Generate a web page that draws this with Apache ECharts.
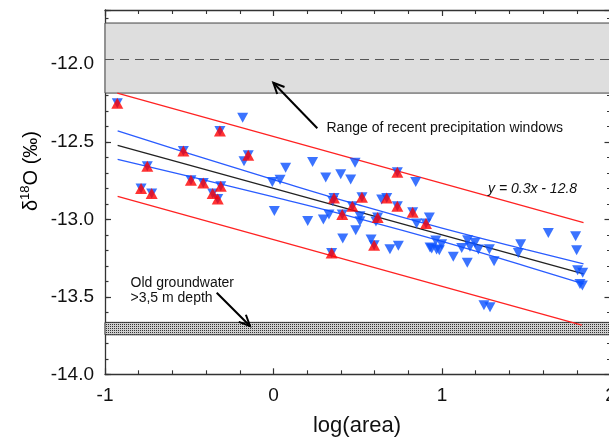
<!DOCTYPE html>
<html><head><meta charset="utf-8">
<script src="https://cdn.jsdelivr.net/npm/echarts@6/dist/echarts.min.js"></script>
<style>html,body{margin:0;padding:0;background:#fff}#c{width:609px;height:439px}</style>
</head><body><div id="c"></div>
<script>
// ---- data ----
const redPoints = [
  [-0.927,-12.251],[-0.318,-12.431],[-0.535,-12.560],[-0.150,-12.587],[-0.749,-12.658],
  [-0.490,-12.749],[-0.417,-12.766],[-0.313,-12.787],[-0.786,-12.802],[-0.723,-12.834],
  [-0.361,-12.834],[-0.331,-12.869],[0.735,-12.697],[0.359,-12.862],[0.525,-12.858],
  [0.672,-12.862],[0.468,-12.916],[0.735,-12.916],[0.826,-12.955],[0.408,-12.969],
  [0.618,-12.989],[0.905,-13.028],[0.597,-13.167],[0.345,-13.217]
];
const bluePoints = [
  [-0.183,-12.345],[-0.175,-12.626],[0.072,-12.667],[0.039,-12.745],[-0.007,-12.760],
  [0.005,-12.946],[0.232,-12.631],[0.484,-12.635],[0.399,-12.710],[0.310,-12.731],
  [0.458,-12.744],[0.844,-12.759],[0.642,-12.873],[0.351,-12.882],[0.925,-12.989],
  [0.329,-12.969],[0.296,-13.002],[0.203,-13.011],[0.513,-12.980],[0.513,-13.013],
  [0.608,-13.015],[0.849,-13.028],[0.488,-13.071],[0.411,-13.124],[0.579,-13.131],
  [0.741,-13.171],[0.691,-13.193],[0.929,-13.182],[0.963,-13.137],[0.968,-13.195],
  [1.631,-13.088],[1.793,-13.109],[1.799,-13.199],[1.467,-13.161],[1.453,-13.217],
  [1.152,-13.135],[1.196,-13.152],[1.166,-13.178],[1.216,-13.195],[1.281,-13.193],
  [1.117,-13.185],[0.998,-13.161],[0.939,-13.189],[0.984,-13.200],[1.067,-13.242],
  [1.150,-13.281],[1.309,-13.270],[1.805,-13.328],[1.835,-13.345],[1.819,-13.418],
  [1.833,-13.427],[1.249,-13.554],[1.285,-13.568]
];
const fitLine = [[-0.925,-12.5225],[1.84,-13.352]];
const confX = [-0.925,-0.5,0,0.5,1.0,1.5,1.84];
const confUpper = [-12.43,-12.576,-12.744,-12.906,-13.057,-13.196,-13.287];
const confLower = [-12.613,-12.724,-12.856,-12.994,-13.143,-13.304,-13.417];
const predUpper = [[-0.927,-12.186],[1.84,-13.021]];
const predLower = [[-0.925,-12.852],[1.83,-13.683]];
const precipBand = [-12.186,-11.734];
const precipMean = -11.973;
const groundwaterBand = [-13.745,-13.665];
const xRange = [-1, 2];
const yRange = [-14.0, -11.65];
const yLabelValues = [-14.0,-13.5,-13.0,-12.5,-12.0];
const xLabelValues = [-1,0,1,2];

// ---- pattern for the groundwater band ----
const pc = document.createElement('canvas'); pc.width = 2; pc.height = 2;
const g = pc.getContext('2d');
g.fillStyle = '#cfcfcf'; g.fillRect(0,0,2,2);
g.fillStyle = '#333'; g.fillRect(0,0,1,1);

const chart = echarts.init(document.getElementById('c'), null, {renderer:'canvas'});
const AX = '#333';
const gridW = 505.5, gridH = 364.3;

function xAx(pos, labels) {
  return {
    type:'value', position:pos, min:xRange[0], max:xRange[1], interval:1,
    axisLine:{show:true, onZero:false, lineStyle:{color:AX, width:1.3}},
    axisTick:{show:true, inside:true, length:6, lineStyle:{color:AX, width:1.2}},
    minorTick:{show:true, splitNumber:5, length:4, lineStyle:{color:AX, width:1.1}},
    axisLabel:{show:labels, margin:12, fontSize:19, color:'#111', fontFamily:'Liberation Sans, Arial',
      formatter:v => xLabelValues.some(t=>Math.abs(t-v)<1e-6) ? String(v) : ''},
    splitLine:{show:false}
  };
}
function yAx(pos, labels, step, len, showLine) {
  return {
    type:'value', position:pos, min:yRange[0], max:yRange[1], interval:step,
    axisLine:{show:showLine, onZero:false, lineStyle:{color:AX, width:1.3}},
    axisTick:{show:true, inside:true, length:len, lineStyle:{color:AX, width:1.2}},
    axisLabel:{show:labels, margin:11, fontSize:19, color:'#111', fontFamily:'Liberation Sans, Arial',
      formatter:v => yLabelValues.some(t=>Math.abs(t-v)<1e-6) ? v.toFixed(1) : ''},
    splitLine:{show:false}
  };
}

function arrow(x1,y1,x2,y2){
  const dx=x1-x2, dy=y1-y2, L=Math.hypot(dx,dy), ux=dx/L, uy=dy/L;
  const a=25*Math.PI/180, h=12;
  const b1=[x2+h*(ux*Math.cos(a)-uy*Math.sin(a)), y2+h*(ux*Math.sin(a)+uy*Math.cos(a))];
  const b2=[x2+h*(ux*Math.cos(a)+uy*Math.sin(a)), y2+h*(-ux*Math.sin(a)+uy*Math.cos(a))];
  return [
    {type:'line', shape:{x1,y1,x2,y2}, style:{stroke:'#000', lineWidth:2}, z:100},
    {type:'polyline', shape:{points:[b1,[x2,y2],b2]}, style:{stroke:'#000', lineWidth:2, fill:null}, z:100}
  ];
}

const txt = {fontFamily:'Liberation Sans, Arial', fill:'#111'};

chart.setOption({
  animation:false,
  grid:{left:105, top:10, width:gridW, height:gridH, containLabel:false, outerBoundsMode:'none'},
  xAxis:[xAx('bottom', true), xAx('top', false)],
  yAxis:[
    yAx('left', true, 0.5, 6, true),
    yAx('left', false, 0.1, 3.5, false),
    yAx('right', false, 0.5, 6, true),
    yAx('right', false, 0.1, 3.5, false)
  ],
  series:[
    {type:'scatter', data:[], xAxisIndex:0, yAxisIndex:0, z:1,
      markArea:{silent:true, label:{show:false},
        data:[
          [{yAxis:precipBand[0], itemStyle:{color:'#dedede', borderColor:'#444', borderWidth:1}}, {yAxis:precipBand[1]}],
          [{yAxis:groundwaterBand[0], itemStyle:{color:{image:pc, repeat:'repeat'}, borderColor:'#333', borderWidth:1}}, {yAxis:groundwaterBand[1]}]
        ]},
      markLine:{silent:true, symbol:['none','none'], label:{show:false},
        lineStyle:{color:'#555', type:[9,6], width:1.2},
        data:[{yAxis:precipMean}]}
    },
    {type:'line', data:predUpper, showSymbol:false, lineStyle:{color:'#ff2222', width:1.3}, z:3},
    {type:'line', data:predLower, showSymbol:false, lineStyle:{color:'#ff2222', width:1.3}, z:3},
    {type:'line', data:confX.map((x,i)=>[x,confUpper[i]]), smooth:true, showSymbol:false, lineStyle:{color:'#2a5cff', width:1.3}, z:3},
    {type:'line', data:confX.map((x,i)=>[x,confLower[i]]), smooth:true, showSymbol:false, lineStyle:{color:'#2a5cff', width:1.3}, z:3},
    {type:'line', data:fitLine, showSymbol:false, lineStyle:{color:'#222', width:1.3}, z:3},
    {type:'scatter', data:bluePoints.concat(redPoints), symbol:'triangle', symbolRotate:180, symbolSize:[11,10],
      itemStyle:{color:'#0a50ff'}, z:5},
    {type:'scatter', data:redPoints, symbol:'triangle', symbolSize:[12,11],
      itemStyle:{color:'#ff0000'}, z:6}
  ],
  graphic:[
    {type:'text', x:31, y:171, rotation:Math.PI/2, z:100,
      style:{text:'{a|δ}{s|18}{a|O (‰)}', align:'center', verticalAlign:'middle',
        rich:{a:{fontSize:20, fontFamily:'Liberation Sans, Arial', color:'#111'},
              s:{fontSize:13, fontFamily:'Liberation Sans, Arial', color:'#111', padding:[0,0,12,0]}}}},
    {type:'text', x:357, y:426, z:100, style:Object.assign({text:'log(area)', fontSize:22, align:'center', verticalAlign:'middle'}, txt)},
    {type:'text', x:326.5, y:128.5, z:100, style:Object.assign({text:'Range of recent precipitation windows', fontSize:14, align:'left', verticalAlign:'middle'}, txt)},
    {type:'text', x:130.5, y:283, z:100, style:Object.assign({text:'Old groundwater', fontSize:14, align:'left', verticalAlign:'middle'}, txt)},
    {type:'text', x:130.5, y:298, z:100, style:Object.assign({text:'>3,5 m depth', fontSize:14, align:'left', verticalAlign:'middle'}, txt)},
    {type:'text', x:488, y:189.5, z:100, style:Object.assign({text:'y = 0.3x - 12.8', fontSize:14, fontStyle:'italic', align:'left', verticalAlign:'middle'}, txt)}
  ].concat(arrow(317.3,128.3,273.3,82.7), arrow(216.7,292.7,250,326))
});
</script></body></html>
